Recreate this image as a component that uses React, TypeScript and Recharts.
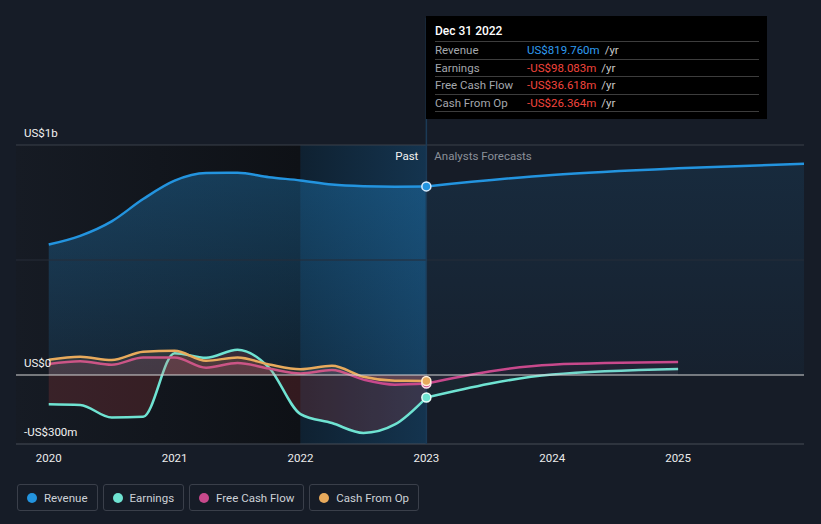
import React from "react";
import {
  ComposedChart,
  Area,
  XAxis,
  YAxis,
  ReferenceLine,
  ReferenceArea,
  ReferenceDot,
} from "recharts";

// past figures (US$m)
const pastYears = [2020, 2020.25, 2020.5, 2020.75, 2021, 2021.25, 2021.5, 2021.75, 2022, 2022.25, 2022.5, 2022.75, 2023];
const revenuePast = [567, 605, 668, 765, 845, 878, 879, 860, 846, 828, 821, 819, 820];
const earningsPast = [-127, -130, -185, -182, 95, 75, 110, 32, -170, -209, -252, -215, -98];
const fcfPast = [48, 60, 45, 76, 76, 32, 52, 28, 7, 22, -20, -42, -37];
const cfoPast = [66, 79, 65, 101, 105, 62, 76, 46, 25, 40, -8, -25, -26];

// analyst forecasts
const forecastYears = [2023, 2024, 2025, 2026];
const revenueForecast = [820, 870, 899, 918];
const earningsForecast = [-98, 2, 26];
const fcfForecast = [-37, 45, 56];

const yearTicks = [2020, 2021, 2022, 2023, 2024, 2025];

const COLORS = {
  revenue: "#2394df",
  earnings: "#6fe3d2",
  fcf: "#c8498c",
  cfo: "#e8aa5c",
};

type Row = { year: number; [key: string]: number | undefined };

const rows: Row[] = [];
pastYears.forEach((year, i) => {
  rows.push({
    year,
    revenue: revenuePast[i],
    earnings: earningsPast[i],
    fcf: fcfPast[i],
    cfo: cfoPast[i],
  });
});
forecastYears.forEach((year, i) => {
  let row = rows.find((r) => r.year === year);
  if (!row) {
    row = { year };
    rows.push(row);
  }
  row.revenueF = revenueForecast[i];
  row.earningsF = earningsForecast[i];
  row.fcfF = fcfForecast[i];
});

const tooltipRows = [
  { label: "Revenue", value: "US$819.760m", color: "#2f9cf0" },
  { label: "Earnings", value: "-US$98.083m", color: "#f2453d" },
  { label: "Free Cash Flow", value: "-US$36.618m", color: "#f2453d" },
  { label: "Cash From Op", value: "-US$26.364m", color: "#f2453d" },
];

const legendItems = [
  { label: "Revenue", color: COLORS.revenue },
  { label: "Earnings", color: COLORS.earnings },
  { label: "Free Cash Flow", color: COLORS.fcf },
  { label: "Cash From Op", color: COLORS.cfo },
];

function YLabel(props: any) {
  const { viewBox, text } = props;
  return (
    <text x={24} y={viewBox.y - 8} fill="#f2f2f2" fontSize={11.5}>
      {text}
    </text>
  );
}

function PastLabel(props: any) {
  const { viewBox } = props;
  return (
    <g>
      <text x={viewBox.x - 8} y={viewBox.y + 15} fill="#f2f2f2" fontSize={11.5} textAnchor="end">
        Past
      </text>
      <text x={viewBox.x + 8} y={viewBox.y + 15} fill="#8b9099" fontSize={11.5}>
        Analysts Forecasts
      </text>
    </g>
  );
}

export default function App() {
  return (
    <div
      style={{
        position: "relative",
        width: 821,
        height: 524,
        background: "#161c27",
        fontFamily: "Roboto, sans-serif",
        overflow: "hidden",
      }}
    >
      <style>{"body{margin:0}"}</style>
      <ComposedChart
        width={821}
        height={480}
        data={rows}
        margin={{ top: 145, right: 17, left: 16, bottom: 0 }}
      >
        <defs>
          <linearGradient id="pastGrad" x1="0" y1="0" x2="1" y2="0">
            <stop offset="0%" stopColor="#161b24" />
            <stop offset="100%" stopColor="#0e1116" />
          </linearGradient>
          <linearGradient id="hlGrad" x1="0" y1="0" x2="1" y2="0">
            <stop offset="0%" stopColor="#0f2131" />
            <stop offset="100%" stopColor="#14344f" />
          </linearGradient>
          <linearGradient id="revPastGrad" x1="0" y1="0" x2="0" y2="1">
            <stop offset="0%" stopColor={COLORS.revenue} stopOpacity={0.32} />
            <stop offset="100%" stopColor={COLORS.revenue} stopOpacity={0.12} />
          </linearGradient>
          <linearGradient id="revFcGrad" x1="0" y1="0" x2="0" y2="1">
            <stop offset="0%" stopColor={COLORS.revenue} stopOpacity={0.12} />
            <stop offset="100%" stopColor={COLORS.revenue} stopOpacity={0.04} />
          </linearGradient>
        </defs>

        <XAxis
          dataKey="year"
          type="number"
          domain={[2019.74, 2026]}
          ticks={yearTicks}
          interval={0}
          axisLine={false}
          tickLine={false}
          height={36}
          tick={{ fill: "#ececec", fontSize: 11.5, dy: 2 }}
          allowDataOverflow
        />
        <YAxis hide type="number" domain={[-300, 1000]} allowDataOverflow />

        <ReferenceArea x1={2019.74} x2={2022} y1={-300} y2={1000} fill="url(#pastGrad)" fillOpacity={1} />
        <ReferenceArea x1={2022} x2={2023} y1={-300} y2={1000} fill="url(#hlGrad)" fillOpacity={1} />

        <ReferenceLine y={1000} stroke="#3a404b" label={<YLabel text="US$1b" />} />
        <ReferenceLine y={500} stroke="#262d38" />
        <ReferenceLine y={-300} stroke="#474c56" label={<YLabel text="-US$300m" />} />
        <ReferenceLine
          segment={[
            { x: 2023, y: -300 },
            { x: 2023, y: 1553 },
          ]}
          stroke="#1b3a56"
          strokeWidth={1.5}
          ifOverflow="visible"
        />
        <ReferenceLine x={2023} stroke="none" label={<PastLabel />} />

        <Area
          type="monotone"
          dataKey="revenue"
          stroke={COLORS.revenue}
          strokeWidth={2.5}
          fill="url(#revPastGrad)"
          fillOpacity={1}
          isAnimationActive={false}
          dot={false}
          activeDot={false}
        />
        <Area
          type="monotone"
          dataKey="revenueF"
          stroke={COLORS.revenue}
          strokeWidth={2.5}
          fill="url(#revFcGrad)"
          fillOpacity={1}
          isAnimationActive={false}
          dot={false}
          activeDot={false}
        />
        <Area
          type="monotone"
          dataKey="earnings"
          stroke={COLORS.earnings}
          strokeWidth={2.5}
          fill="#e04848"
          fillOpacity={0.18}
          isAnimationActive={false}
          dot={false}
          activeDot={false}
        />
        <Area
          type="monotone"
          dataKey="fcf"
          stroke={COLORS.fcf}
          strokeWidth={2.5}
          fill={COLORS.fcf}
          fillOpacity={0.14}
          isAnimationActive={false}
          dot={false}
          activeDot={false}
        />
        <Area
          type="monotone"
          dataKey="cfo"
          stroke={COLORS.cfo}
          strokeWidth={2.5}
          fill={COLORS.cfo}
          fillOpacity={0.12}
          isAnimationActive={false}
          dot={false}
          activeDot={false}
        />
        <Area
          type="monotone"
          dataKey="earningsF"
          stroke={COLORS.earnings}
          strokeWidth={2.5}
          fill={COLORS.earnings}
          fillOpacity={0.05}
          isAnimationActive={false}
          dot={false}
          activeDot={false}
        />
        <Area
          type="monotone"
          dataKey="fcfF"
          stroke={COLORS.fcf}
          strokeWidth={2.5}
          fill={COLORS.fcf}
          fillOpacity={0.06}
          isAnimationActive={false}
          dot={false}
          activeDot={false}
        />

        <ReferenceLine y={0} stroke="#d6d6d6" strokeWidth={1.2} label={<YLabel text="US$0" />} />

        <ReferenceDot x={2023} y={revenuePast[12]} r={4.5} fill={COLORS.revenue} stroke="#d8ecff" strokeWidth={1.5} />
        <ReferenceDot x={2023} y={earningsPast[12]} r={4.5} fill={COLORS.earnings} stroke="#e8fffb" strokeWidth={1.5} />
        <ReferenceDot x={2023} y={fcfPast[12]} r={4.5} fill={COLORS.fcf} stroke="#ffe0ee" strokeWidth={1.5} />
        <ReferenceDot x={2023} y={cfoPast[12]} r={4.5} fill={COLORS.cfo} stroke="#fff0dc" strokeWidth={1.5} />
      </ComposedChart>

      {/* static hover box for Dec 31 2022 */}
      <div
        style={{
          position: "absolute",
          left: 426,
          top: 16,
          width: 341,
          height: 103,
          background: "#000",
          boxSizing: "border-box",
          padding: "7px 8px 0 9px",
        }}
      >
        <div style={{ height: 18, lineHeight: "17px", fontSize: 12, color: "#fff", fontWeight: 500 }}>
          Dec 31 2022
        </div>
        {tooltipRows.map((r, i) => (
          <div
            key={r.label}
            style={{
              display: "flex",
              height: 16.6,
              lineHeight: "16.6px",
              fontSize: 11.5,
              borderTop: "1px solid #3d3d3d",
              borderBottom: i === tooltipRows.length - 1 ? "1px solid #3d3d3d" : undefined,
            }}
          >
            <span style={{ width: 92, color: "#a4a7ad" }}>{r.label}</span>
            <span style={{ color: r.color }}>{r.value}</span>
            <span style={{ color: "#c9c9c9", marginLeft: 5 }}>/yr</span>
          </div>
        ))}
      </div>

      <div style={{ position: "absolute", left: 17, top: 484, display: "flex", gap: 5 }}>
        {legendItems.map((item) => (
          <div
            key={item.label}
            style={{
              display: "flex",
              alignItems: "center",
              height: 27,
              boxSizing: "border-box",
              border: "1px solid #3a3f4a",
              borderRadius: 3,
              padding: "0 9px 0 9px",
              color: "#cdd1d7",
              fontSize: 11.5,
            }}
          >
            <span
              style={{
                width: 10,
                height: 10,
                borderRadius: 5,
                background: item.color,
                marginRight: 7,
              }}
            />
            {item.label}
          </div>
        ))}
      </div>
    </div>
  );
}
